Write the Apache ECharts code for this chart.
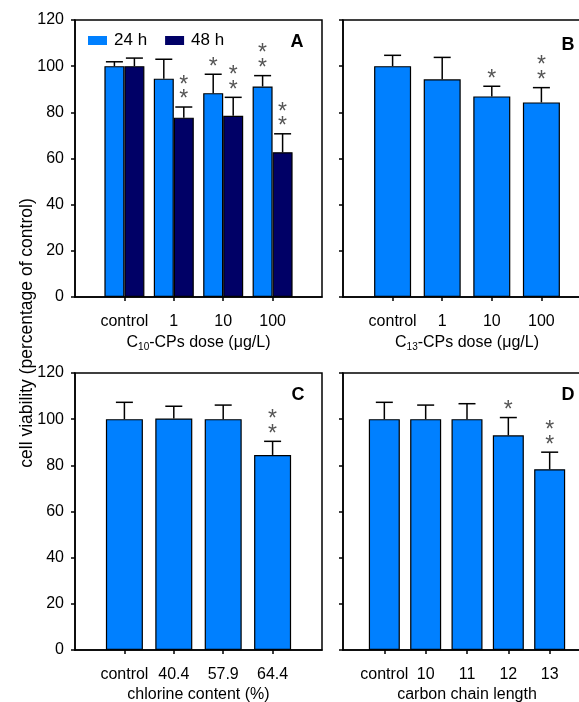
<!DOCTYPE html>
<html>
<head>
<meta charset="utf-8">
<title>cell viability</title>
<script src="https://cdn.jsdelivr.net/npm/echarts@6/dist/echarts.min.js"></script>
<style>
  html, body { margin: 0; padding: 0; background: #fff; overflow: hidden; }
  /* wider than the window: the right frames of B and D fall just outside the picture */
  #chart { width: 600px; height: 702px; }
</style>
</head>
<body>
<div id="chart"></div>
<script type="text/javascript">
// categories
var doseCats = ['control', '1', '10', '100'];
var chlorineCats = ['control', '40.4', '57.9', '64.4'];
var chainCats = ['control', '10', '11', '12', '13'];
var yMin = 0, yMax = 120, yStep = 20;

// panel A: C10-CPs, 24 h and 48 h
var a24 = [100, 94.6, 88.3, 91.2];
var a24Err = [1.9, 8.4, 8.2, 4.7];
var a24Sig = ['', '', '*', '**'];
var a48 = [100, 77.7, 78.5, 62.7];
var a48Err = [3.5, 4.6, 8.0, 8.0];
var a48Sig = ['', '**', '**', '**'];
// panel B: C13-CPs
var bVal = [100, 94.3, 86.9, 84.3];
var bErr = [4.7, 9.5, 4.4, 6.4];
var bSig = ['', '', '*', '**'];
// panel C: chlorine content
var cVal = [100, 100.3, 100, 84.5];
var cErr = [7.3, 5.3, 6.1, 5.9];
var cSig = ['', '', '', '**'];
// panel D: carbon chain length
var dVal = [100, 100, 100, 93.0, 78.3];
var dErr = [7.3, 6.1, 6.7, 7.7, 7.4];
var dSig = ['', '', '', '*', '**'];

var FONT = 'Liberation Sans, Arial, sans-serif';
var LIGHT = '#0080FF';
var DARK = '#000066';

// one empty slot on each side so the axis runs one step beyond the first/last bar
function padCats(arr) { return [''].concat(arr, ['']); }
function padVals(arr) { return [null].concat(arr, [null]); }

var grids = [
    { left: 75, top: 20, width: 247, height: 277 },
    { left: 343, top: 20, width: 248, height: 277 },
    { left: 75, top: 373, width: 247, height: 277 },
    { left: 343, top: 373, width: 248, height: 277 }
];

function xAxis(idx, cats, nameRich) {
    return {
        type: 'category', gridIndex: idx, boundaryGap: false,
        data: padCats(cats),
        axisLine: { lineStyle: { color: '#000', width: 1.5 } },
        axisTick: { length: 4, lineStyle: { color: '#000', width: 1.5 },
            interval: function (i, v) { return v !== ''; } },
        axisLabel: { interval: 0, margin: 17, color: '#000', fontSize: 16, fontFamily: FONT },
        splitLine: { show: false },
        name: nameRich, nameLocation: 'middle', nameGap: 37,
        nameTextStyle: {
            color: '#000', fontSize: 16, fontFamily: FONT,
            rich: {
                n: { fontSize: 16, fontFamily: FONT, color: '#000' },
                s: { fontSize: 10, fontFamily: FONT, color: '#000', verticalAlign: 'bottom', padding: [8, 0, 0, 0] }
            }
        }
    };
}

function yAxis(idx, showLabel) {
    return {
        type: 'value', gridIndex: idx, min: yMin, max: yMax, interval: yStep,
        axisLine: { show: true, lineStyle: { color: '#000', width: 1.5 } },
        axisTick: { show: true, length: 4, lineStyle: { color: '#000', width: 1.5 } },
        axisLabel: { show: showLabel, margin: 11, color: '#000', fontSize: 16, fontFamily: FONT },
        splitLine: { show: false }
    };
}

function bars(idx, name, vals, color, width) {
    return {
        type: 'bar', name: name, xAxisIndex: idx, yAxisIndex: idx,
        data: padVals(vals), barWidth: width, barGap: '0%',
        itemStyle: { color: color, borderColor: '#000', borderWidth: 1.2 },
        silent: true
    };
}

function errBars(idx, vals, errs, sig, offset) {
    return {
        type: 'custom', xAxisIndex: idx, yAxisIndex: idx, z: 5, silent: true,
        data: vals.map(function (v, i) { return [i + 1, v, errs[i]]; }),
        renderItem: function (params, api) {
            var i = api.value(0), m = api.value(1), e = api.value(2);
            var base = api.coord([i, m]);
            var top = api.coord([i, m + e]);
            var x = base[0] + offset, yb = base[1], yt = top[1];
            var line = { stroke: '#000', lineWidth: 1.5 };
            var kids = [
                { type: 'line', shape: { x1: x, y1: yb, x2: x, y2: yt }, style: line },
                { type: 'line', shape: { x1: x - 8.5, y1: yt, x2: x + 8.5, y2: yt }, style: line }
            ];
            var s = sig[params.dataIndex];
            for (var k = 0; k < s.length; k++) {
                kids.push({
                    type: 'text', x: x, y: yt - 13 - 14.5 * k + 6,
                    style: { text: '*', fontSize: 23, fontFamily: FONT, fill: '#555',
                        align: 'center', verticalAlign: 'middle' }
                });
            }
            return { type: 'group', children: kids };
        }
    };
}

function panelLabel(txt, x, y) {
    return { type: 'text', x: x, y: y, z: 10,
        style: { text: txt, fontSize: 18, fontWeight: 'bold', fontFamily: FONT, fill: '#000',
            align: 'center', verticalAlign: 'middle' } };
}

var chart = echarts.init(document.getElementById('chart'));
chart.setOption({
    animation: false,
    backgroundColor: '#fff',
    grid: grids.map(function (g) {
        // keep the grids exactly where they are set; labels may run to the edge
        return Object.assign({ show: true, borderColor: '#000', borderWidth: 1.5,
            containLabel: false, outerBoundsMode: 'none' }, g);
    }),
    legend: {
        data: ['24 h', '48 h'], left: 88, top: 32, padding: 0,
        itemWidth: 19, itemHeight: 9, itemGap: 18, icon: 'rect',
        itemStyle: { borderWidth: 0 },
        textStyle: { color: '#000', fontSize: 17, fontFamily: FONT, padding: [0, 0, 0, 2] }
    },
    xAxis: [
        xAxis(0, doseCats, '{n|C}{s|10}{n|-CPs dose (μg/L)}'),
        xAxis(1, doseCats, '{n|C}{s|13}{n|-CPs dose (μg/L)}'),
        xAxis(2, chlorineCats, 'chlorine content (%)'),
        xAxis(3, chainCats, 'carbon chain length')
    ],
    yAxis: [yAxis(0, true), yAxis(1, false), yAxis(2, true), yAxis(3, false)],
    series: [
        bars(0, '24 h', a24, LIGHT, 20),
        bars(0, '48 h', a48, DARK, 20),
        errBars(0, a24, a24Err, a24Sig, -10),
        errBars(0, a48, a48Err, a48Sig, 10),
        bars(1, 'B', bVal, LIGHT, 37),
        errBars(1, bVal, bErr, bSig, 0),
        bars(2, 'C', cVal, LIGHT, 37),
        errBars(2, cVal, cErr, cSig, 0),
        bars(3, 'D', dVal, LIGHT, 31),
        errBars(3, dVal, dErr, dSig, 0)
    ],
    graphic: [
        panelLabel('A', 297, 42),
        panelLabel('B', 568, 45),
        panelLabel('C', 298, 395),
        panelLabel('D', 568, 395),
        { type: 'text', x: 27, y: 333, rotation: Math.PI / 2,
          style: { text: 'cell viability (percentage of control)', fontSize: 17.5, fontFamily: FONT,
              fill: '#000', align: 'center', verticalAlign: 'middle' } }
    ]
});
</script>
</body>
</html>
